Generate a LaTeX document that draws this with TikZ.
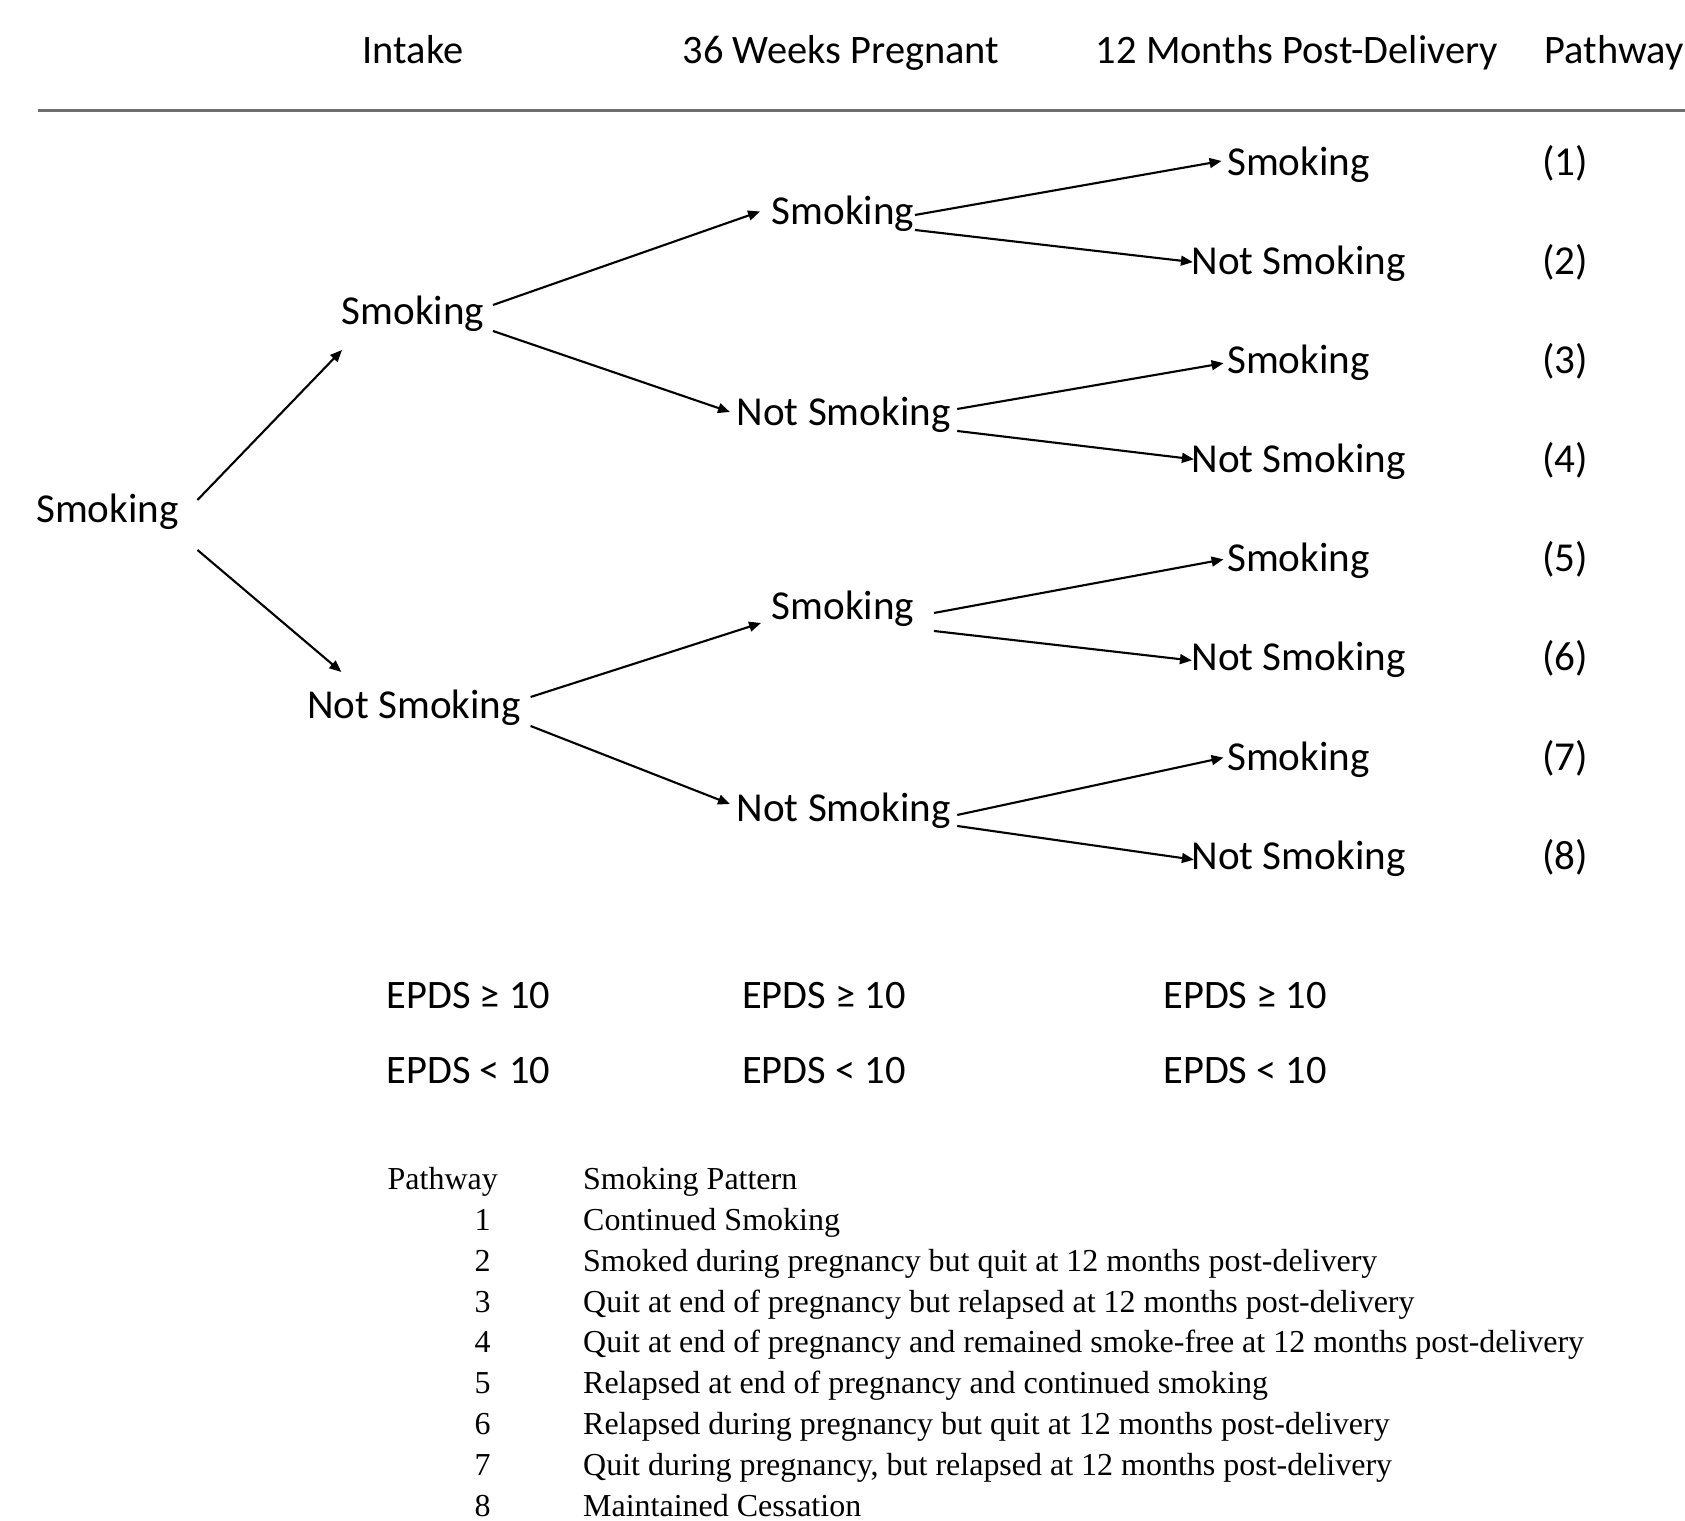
\documentclass[tikz,border=0pt]{standalone}
\usepackage{fontspec}
\setmainfont{Liberation Serif}
\newfontfamily\calfont{Carlito}
\usetikzlibrary{arrows.meta}
\definecolor{rulegray}{RGB}{110,110,110}

\begin{document}
\begin{tikzpicture}[
        lbl/.style={font=\calfont\fontsize{11.7}{14}\selectfont, inner sep=0pt, text height=9.4pt, text depth=2.3pt},
        hdr/.style={font=\calfont\fontsize{11.5}{14}\selectfont, inner sep=0pt, text height=9.2pt, text depth=2.3pt},
        leg/.style={font=\fontsize{9.1}{11}\selectfont, inner sep=0pt, text height=7.3pt, text depth=1.8pt},
        arr/.style={line width=0.6pt, -{Triangle[length=3.4pt, width=2.8pt]}}
    ]
                \useasboundingbox (0, 0) rectangle (16.85, 15.21);

                % column headers
                \node[hdr] (intake) at (4.13, 14.70) {Intake};
                \node[hdr] (weeks) at (8.41, 14.70) {36 Weeks Pregnant};
                \node[hdr] (months) at (12.97, 14.70) {12 Months Post-Delivery};
                \node[hdr, anchor=west] (pathway) at (15.44, 14.70) {Pathway};
                \draw[rulegray, line width=0.85pt] (0.38, 14.10) -- (16.85, 14.10);

                % tree
                \node[lbl] (start) at (1.075, 10.11) {Smoking};
                \node[lbl] (intakeS) at (4.13, 12.09) {Smoking};
                \node[lbl] (intakeN) at (4.14, 8.15) {Not Smoking};

                \node[lbl] (weekSS) at (8.43, 13.085) {Smoking};
                \node[lbl] (weekSN) at (8.436, 11.08) {Not Smoking};
                \node[lbl] (weekNS) at (8.43, 9.14) {Smoking};
                \node[lbl] (weekNN) at (8.436, 7.12) {Not Smoking};

                \node[lbl] (end1) at (12.985, 13.58) {Smoking};
                \node[lbl] (end2) at (12.985, 12.589) {Not Smoking};
                \node[lbl] (end3) at (12.985, 11.598) {Smoking};
                \node[lbl] (end4) at (12.985, 10.607) {Not Smoking};
                \node[lbl] (end5) at (12.985, 9.616) {Smoking};
                \node[lbl] (end6) at (12.985, 8.625) {Not Smoking};
                \node[lbl] (end7) at (12.985, 7.634) {Smoking};
                \node[lbl] (end8) at (12.985, 6.643) {Not Smoking};

                \node[lbl] (path1) at (15.65, 13.58) {(1)};
                \node[lbl] (path2) at (15.65, 12.589) {(2)};
                \node[lbl] (path3) at (15.65, 11.598) {(3)};
                \node[lbl] (path4) at (15.65, 10.607) {(4)};
                \node[lbl] (path5) at (15.65, 9.616) {(5)};
                \node[lbl] (path6) at (15.65, 8.625) {(6)};
                \node[lbl] (path7) at (15.65, 7.634) {(7)};
                \node[lbl] (path8) at (15.65, 6.643) {(8)};

                % start -> intake
                \draw[arr] ([shift={(0.18, 0.10)}]start.east) -- ([shift={(0.01, -0.38)}]intakeS.west);
                \draw[arr] ([shift={(0.18, -0.40)}]start.east) -- ([shift={(0.35, 0.34)}]intakeN.west);

                % intake -> 36 weeks
                \draw[arr] ([shift={(0.08, 0.07)}]intakeS.east) -- ([shift={(-0.11, 0.01)}]weekSS.west);
                \draw[arr] ([shift={(0.08, -0.19)}]intakeS.east) -- ([shift={(-0.06, 0.01)}]weekSN.west);
                \draw[arr] ([shift={(0.09, 0.09)}]intakeN.east) -- ([shift={(-0.10, -0.16)}]weekNS.west);
                \draw[arr] ([shift={(0.09, -0.20)}]intakeN.east) -- ([shift={(-0.06, 0.05)}]weekNN.west);

                % 36 weeks -> 12 months
                \draw[arr] ([shift={(0, -0.025)}]weekSS.east) -- ([shift={(-0.05, 0.02)}]end1.west);
                \draw[arr] ([shift={(0, -0.175)}]weekSS.east) -- ([shift={(0.02, 0)}]end2.west);
                \draw[arr] ([shift={(0.06, 0.04)}]weekSN.east) -- ([shift={(-0.03, -0.02)}]end3.west);
                \draw[arr] ([shift={(0.06, -0.18)}]weekSN.east) -- ([shift={(0.03, 0.01)}]end4.west);
                \draw[arr] ([shift={(0.19, -0.06)}]weekNS.east) -- ([shift={(-0.03, 0)}]end5.west);
                \draw[arr] ([shift={(0.19, -0.24)}]weekNS.east) -- ([shift={(0.01, -0.02)}]end6.west);
                \draw[arr] ([shift={(0.06, -0.06)}]weekNN.east) -- ([shift={(-0.03, 0)}]end7.west);
                \draw[arr] ([shift={(0.06, -0.17)}]weekNN.east) -- ([shift={(0.03, -0.03)}]end8.west);

                % EPDS rows
                \node[hdr, anchor=west] (epdsHi1) at (3.86, 5.25) {EPDS ≥ 10};
                \node[hdr, anchor=west] (epdsHi2) at (7.415, 5.25) {EPDS ≥ 10};
                \node[hdr, anchor=west] (epdsHi3) at (11.627, 5.25) {EPDS ≥ 10};
                \node[hdr, anchor=west] (epdsLo1) at (3.86, 4.50) {EPDS < 10};
                \node[hdr, anchor=west] (epdsLo2) at (7.415, 4.50) {EPDS < 10};
                \node[hdr, anchor=west] (epdsLo3) at (11.627, 4.50) {EPDS < 10};

                % legend
                \node[leg, anchor=west] (legHead) at (3.87, 3.41) {Pathway};
                \node[leg, anchor=west] (legPattern) at (5.825, 3.41) {Smoking Pattern};
                \node[leg] (num1) at (4.825, 3.002) {1};
                \node[leg] (num2) at (4.825, 2.594) {2};
                \node[leg] (num3) at (4.825, 2.186) {3};
                \node[leg] (num4) at (4.825, 1.778) {4};
                \node[leg] (num5) at (4.825, 1.370) {5};
                \node[leg] (num6) at (4.825, 0.962) {6};
                \node[leg] (num7) at (4.825, 0.554) {7};
                \node[leg] (num8) at (4.825, 0.146) {8};
                \node[leg, anchor=west] (text1) at (5.825, 3.002) {Continued Smoking};
                \node[leg, anchor=west] (text2) at (5.825, 2.594) {Smoked during pregnancy but quit at 12 months post-delivery};
                \node[leg, anchor=west] (text3) at (5.825, 2.186) {Quit at end of pregnancy but relapsed at 12 months post-delivery};
                \node[leg, anchor=west] (text4) at (5.825, 1.778) {Quit at end of pregnancy and remained smoke-free at 12 months post-delivery};
                \node[leg, anchor=west] (text5) at (5.825, 1.370) {Relapsed at end of pregnancy and continued smoking};
                \node[leg, anchor=west] (text6) at (5.825, 0.962) {Relapsed during pregnancy but quit at 12 months post-delivery};
                \node[leg, anchor=west] (text7) at (5.825, 0.554) {Quit during pregnancy, but relapsed at 12 months post-delivery};
                \node[leg, anchor=west] (text8) at (5.825, 0.146) {Maintained Cessation};

            \end{tikzpicture}
\end{document}
